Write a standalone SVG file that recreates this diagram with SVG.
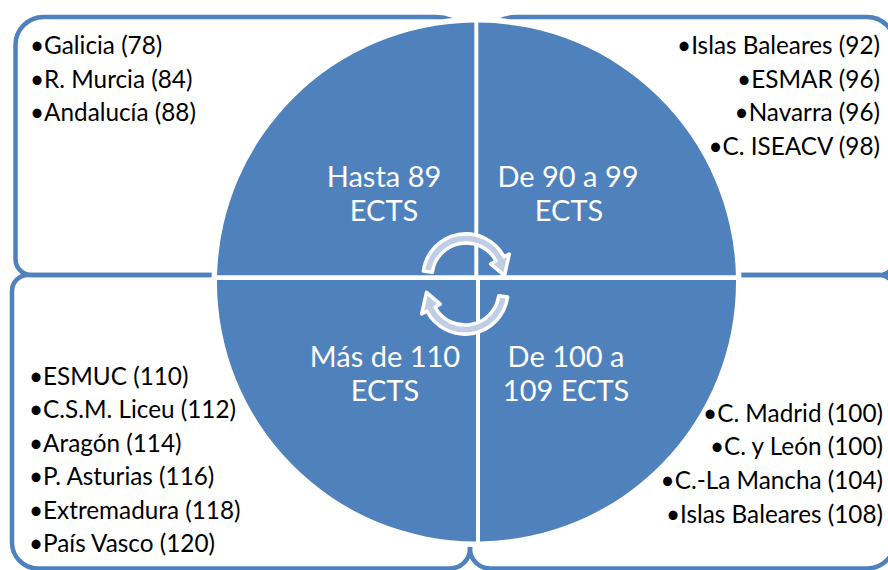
<svg xmlns="http://www.w3.org/2000/svg" width="888" height="570" viewBox="0 0 888 570">
  <style>
    .box { fill: none; stroke: #4F81BD; stroke-width: 4.5; }
    .quad { fill: #4F81BD; }
    .arrow { fill: #BFCDE5; stroke: #FFFFFF; stroke-width: 3.5; stroke-linejoin: round; }
    .item { font-family: Lato, "Open Sans", sans-serif; font-size: 24.3px; fill: #000000; }
    .end { text-anchor: end; }
    .label { font-family: Lato, "Open Sans", sans-serif; font-size: 29px; fill: #FFFFFF; text-anchor: middle; }
  </style>
  <rect x="0" y="0" width="888" height="570" fill="#FFFFFF"/>

  <g id="box-tl">
    <path class="box" d="M43.5,17 H436 A40,40 0 0 1 476,57 V259 A16,16 0 0 1 460,275 H31.5 A16,16 0 0 1 15.5,259 V45 A28,28 0 0 1 43.5,17 Z"/>
  </g>
  <g id="box-tr">
    <path class="box" d="M516,17 H867 A28,28 0 0 1 895,45 V259 A16,16 0 0 1 879,275 H492 A16,16 0 0 1 476,259 V57 A40,40 0 0 1 516,17 Z"/>
  </g>
  <g id="box-bl">
    <path class="box" d="M28,275 H452 A18,18 0 0 1 470,293 V548.5 A20,20 0 0 1 450,568.5 H38 A26,26 0 0 1 12,542.5 V291 A16,16 0 0 1 28,275 Z"/>
  </g>
  <g id="box-br">
    <path class="box" d="M486,275 H879 A16,16 0 0 1 895,291 V540.5 A28,28 0 0 1 867,568.5 H490 A20,20 0 0 1 470,548.5 V291 A16,16 0 0 1 486,275 Z"/>
  </g>

  <circle cx="476.5" cy="282" r="265" fill="#FFFFFF"/>

  <g id="quad-tl">
    <path class="quad" d="M474.3,275.2 H217.1 A259.5,259.5 0 0 1 474.3,22.5 Z"/>
    <text class="label" x="384" y="187">Hasta 89</text>
    <text class="label" x="384" y="221">ECTS</text>
  </g>
  <g id="quad-tr">
    <path class="quad" d="M478.3,275.2 V22.5 A259.5,259.5 0 0 1 735.9,275.2 Z"/>
    <text class="label" x="568" y="187">De 90 a 99</text>
    <text class="label" x="569" y="221">ECTS</text>
  </g>
  <g id="quad-bl">
    <path class="quad" d="M476,280 V541.5 A259.5,259.5 0 0 1 217,280 Z"/>
    <text class="label" x="385" y="367">Más de 110</text>
    <text class="label" x="385" y="401">ECTS</text>
  </g>
  <g id="quad-br">
    <path class="quad" d="M480,280 H736 A259.5,259.5 0 0 1 480,541.5 Z"/>
    <text class="label" x="566" y="367">De 100 a</text>
    <text class="label" x="566" y="401">109 ECTS</text>
  </g>

  <g id="connectors">
    <path id="arrow-top" class="arrow" d="M432.3,272.3 L423.4,271.0 A43,43 0 0 1 504.0,256.8 L509.3,254.0 L504.5,275.7 L490.7,263.9 L496.0,261.0 A34,34 0 0 0 432.3,272.3 Z"/>
    <path id="arrow-bottom" class="arrow" transform="rotate(180 465.5 284)" d="M432.3,272.3 L423.4,271.0 A43,43 0 0 1 504.0,256.8 L509.3,254.0 L504.5,275.7 L490.7,263.9 L496.0,261.0 A34,34 0 0 0 432.3,272.3 Z"/>
  </g>

  <g id="list-tl">
    <text class="item" x="30" y="54">•Galicia (78)</text>
    <text class="item" x="30" y="87.5">•R. Murcia (84)</text>
    <text class="item" x="30" y="121">•Andalucía (88)</text>
  </g>
  <g id="list-tr">
    <text class="item end" x="880" y="54">•Islas Baleares (92)</text>
    <text class="item end" x="880" y="87.5">•ESMAR (96)</text>
    <text class="item end" x="880" y="121">•Navarra (96)</text>
    <text class="item end" x="880" y="155">•C. ISEACV (98)</text>
  </g>
  <g id="list-bl">
    <text class="item" x="29" y="384.5">•ESMUC (110)</text>
    <text class="item" x="29" y="418">•C.S.M. Liceu (112)</text>
    <text class="item" x="29" y="451.5">•Aragón (114)</text>
    <text class="item" x="29" y="485">•P. Asturias (116)</text>
    <text class="item" x="29" y="518.5">•Extremadura (118)</text>
    <text class="item" x="29" y="552">•País Vasco (120)</text>
  </g>
  <g id="list-br">
    <text class="item end" x="883" y="421.5">•C. Madrid (100)</text>
    <text class="item end" x="883" y="455">•C. y León (100)</text>
    <text class="item end" x="883" y="489">•C.-La Mancha (104)</text>
    <text class="item end" x="883" y="523">•Islas Baleares (108)</text>
  </g>
</svg>
